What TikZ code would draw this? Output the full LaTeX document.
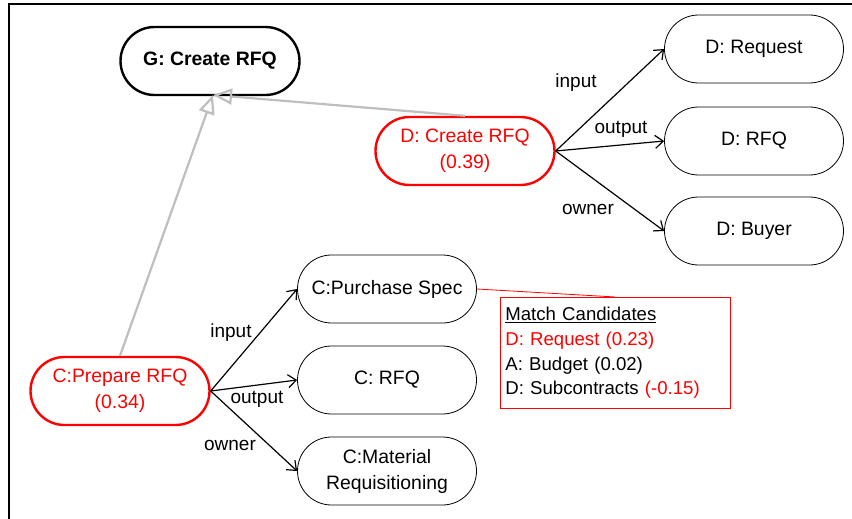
\documentclass[tikz,border=0pt]{standalone}
\usepackage{fontspec}
\setmainfont{Liberation Sans}
\usetikzlibrary{arrows.meta}
\definecolor{hlred}{RGB}{255,0,0}
\definecolor{lgray}{RGB}{190,190,190}
\begin{document}
\begin{tikzpicture}[x=1pt,y=-1pt,
  font=\fontsize{19.4}{26}\selectfont,
  pill/.style={draw=black, line width=0.8pt, rounded corners=34pt,
    minimum width=179pt, minimum height=68pt, inner sep=0pt, align=center},
  goalpill/.style={pill, line width=2.4pt, font=\fontsize{19.4}{26}\selectfont\bfseries},
  matchpill/.style={pill, draw=hlred, line width=2.4pt, text=hlred},
  rel/.style={draw=black, line width=1.2pt, -{Straight Barb[length=8pt,width=13pt,line width=1.2pt]}},
  isa/.style={draw=lgray, line width=2.2pt, -{Triangle[open,length=19pt,width=16pt,line width=2.2pt]}},
  lbl/.style={inner sep=0pt, font=\fontsize{19}{24}\selectfont}
]
\useasboundingbox (0,0) rectangle (852,519);
\draw[line width=2pt] (9,519) -- (9,4.5) -- (852,4.5);

\node[goalpill] (G) at (210,61) {G: Create RFQ};
\node[matchpill] (DC) at (465,151) {D: Create RFQ\\(0.39)};
\node[pill] (DR) at (754,49) {D: Request};
\node[pill] (DF) at (754,141) {D: RFQ};
\node[pill] (DB) at (754,231) {D: Buyer};

\node[matchpill] (CP) at (120,391) {C:Prepare RFQ\\(0.34)};
\node[pill] (PS) at (387,289) {C:Purchase Spec};
\node[pill] (CR) at (387,380) {C: RFQ};
\node[pill] (CM) at (387,471) {C:Material\\Requisitioning};

\node[draw=hlred, line width=0.8pt, anchor=north west, text width=220pt,
  minimum width=230pt, minimum height=111pt, inner sep=5pt, align=left,
  font=\fontsize{18.6}{24.7}\selectfont] (mc) at (500,297)
  {\underline{Match Candidates}\\
   \textcolor{hlred}{D: Request (0.23)}\\
   A: Budget (0.02)\\
   D: Subcontracts \textcolor{hlred}{(-0.15)}};

\coordinate (gtip) at (213,95);
\draw[isa] (DC.north) -- (gtip);
\draw[isa] (CP.north) -- (gtip);

\draw[rel] (DC.east) -- (DR.west);
\draw[rel] (DC.east) -- (DF.west);
\draw[rel] (DC.east) -- (DB.west);
\draw[rel] (CP.east) -- (PS.west);
\draw[rel] (CP.east) -- (CR.west);
\draw[rel] (CP.east) -- (CM.west);

\draw[hlred, line width=0.8pt] (PS.east) -- (mc.north);

\node[lbl] (l1) at (576,83) {input};
\node[lbl] (l2) at (621,129) {output};
\node[lbl] (l3) at (588,209) {owner};
\node[lbl] (l4) at (231,333) {input};
\node[lbl] (l5) at (257,399) {output};
\node[lbl] (l6) at (230,445) {owner};
\end{tikzpicture}
\end{document}
